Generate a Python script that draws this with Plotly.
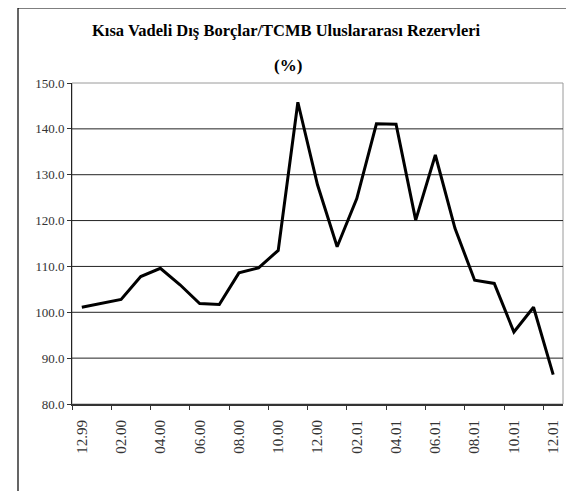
import plotly.graph_objects as go

months = ["12.99", "01.00", "02.00", "03.00", "04.00", "05.00", "06.00", "07.00",
          "08.00", "09.00", "10.00", "11.00", "12.00", "01.01", "02.01", "03.01",
          "04.01", "05.01", "06.01", "07.01", "08.01", "09.01", "10.01", "11.01", "12.01"]
ratio = [101.1, 102.0, 102.8, 107.8, 109.6, 106.0, 101.9, 101.7, 108.6, 109.7,
         113.5, 145.8, 127.8, 114.3, 124.8, 141.1, 141.0, 120.1, 134.3, 118.3,
         107.0, 106.3, 95.7, 101.1, 86.4]
y_ticks = [80, 90, 100, 110, 120, 130, 140, 150]
title_line1 = "Kısa Vadeli Dış Borçlar/TCMB Uluslararası Rezervleri"
title_line2 = "(%)"

SERIF = "Liberation Serif, Times New Roman, serif"

# page body has an 8px margin, so the figure is drawn 8px smaller and offset
OFF = 8
W, H = 574 - OFF, 491 - OFF
L, T = 72 - OFF, 83 - OFF
PW, PH = 491, 321
R = W - L - PW
B = H - T - PH

fig = go.Figure()
fig.add_trace(go.Scatter(x=months, y=ratio, mode="lines",
                         line=dict(color="#000000", width=3), hoverinfo="x+y"))

shapes = []
shapes.append(dict(type="rect", xref="paper", yref="paper", x0=0, x1=1, y0=0, y1=1,
                   line=dict(color="#9a9a9a", width=1), layer="below"))
for v in y_ticks[1:-1]:
    shapes.append(dict(type="line", xref="paper", yref="y", x0=0, x1=1, y0=v, y1=v,
                       line=dict(color="#222222", width=1), layer="below"))
shapes.append(dict(type="rect", xref="paper", yref="paper",
                   x0=(18 - 72) / PW, x1=1.2, y0=-0.6, y1=1 + (83 - 8) / PH,
                   line=dict(color="#000000", width=1.2)))

fig.update_layout(
    width=W, height=H,
    margin=dict(l=L, r=R, t=T, b=B, autoexpand=False),
    paper_bgcolor="white", plot_bgcolor="white",
    showlegend=False,
    shapes=shapes,
    annotations=[
        dict(text="<b>" + title_line1 + "</b>", xref="paper", yref="paper", x=(286 - 72) / PW,
             y=1 + (83 - 30) / PH, xanchor="center", yanchor="middle", showarrow=False,
             font=dict(family=SERIF, size=16.5, color="#000000")),
        dict(text="<b>" + title_line2 + "</b>", xref="paper", yref="paper", x=(288 - 72) / PW,
             y=1 + (83 - 65) / PH, xanchor="center", yanchor="middle", showarrow=False,
             font=dict(family=SERIF, size=17, color="#000000")),
    ],
    xaxis=dict(type="category", range=[-0.5, len(months) - 0.5],
               tickmode="linear", tick0=0, dtick=2, tickson="boundaries",
               ticks="outside", ticklen=4, tickcolor="#333333", tickwidth=1,
               tickangle=-90, ticklabelstandoff=8,
               showline=True, linecolor="#333333", linewidth=2,
               showgrid=False, zeroline=False, automargin=False,
               tickfont=dict(family=SERIF, size=15, color="#333333")),
    yaxis=dict(range=[80, 150], tickvals=y_ticks, tickformat=".1f",
               ticks="outside", ticklen=4, tickcolor="#333333",
               showline=True, linecolor="#222222", linewidth=1,
               showgrid=False, zeroline=False, automargin=False,
               tickfont=dict(family=SERIF, size=13, color="#333333")),
)

fig.write_html("out.html")
